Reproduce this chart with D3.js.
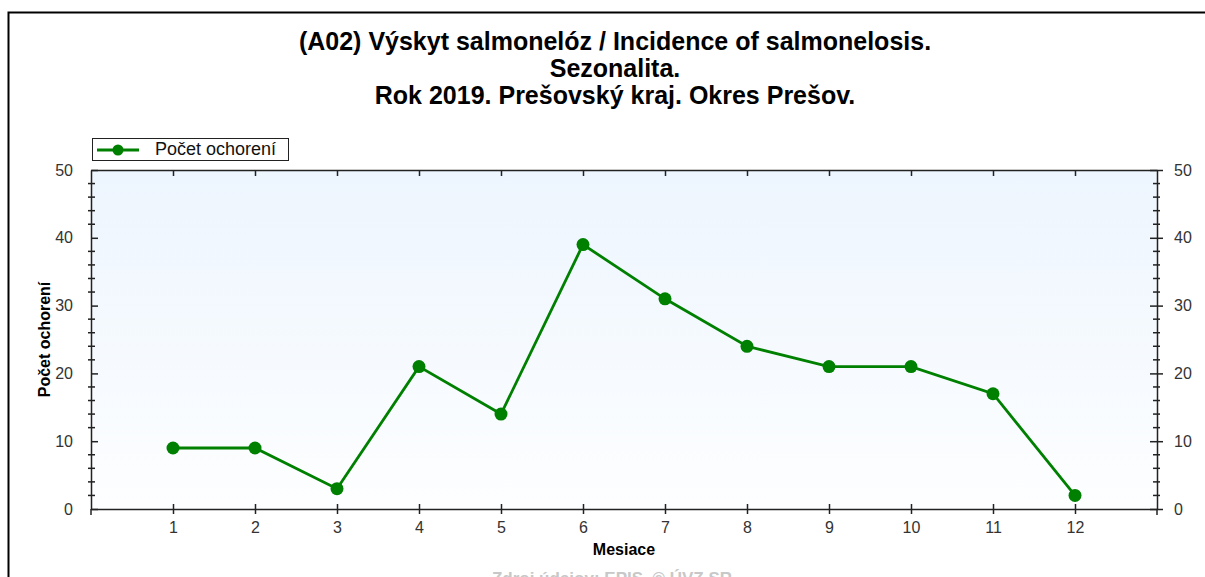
<!DOCTYPE html>
<html lang="sk">
<head>
<meta charset="utf-8">
<script src="https://d3js.org/d3.v7.min.js"></script>
<style>
  body { margin: 0; background: #fff; }
  svg { display: block; font-family: Arial, "Liberation Sans", sans-serif; }
</style>
</head>
<body>
<svg id="chart"></svg>
<script>
// data
var months = [1, 2, 3, 4, 5, 6, 7, 8, 9, 10, 11, 12];
var cases = [9, 9, 3, 21, 14, 39, 31, 24, 21, 21, 17, 2];
var yTicks = [0, 10, 20, 30, 40, 50];
var titleLines = [
  '(A02) Výskyt salmonelóz / Incidence of salmonelosis.',
  'Sezonalita.',
  'Rok 2019. Prešovský kraj. Okres Prešov.'
];
var seriesName = 'Počet ochorení';
var xTitle = 'Mesiace';
var yTitle = 'Počet ochorení';
var sourceText = 'Zdroj údajov: EPIS, © ÚVZ SR';

var width = 1205, height = 577;
var plot = { left: 91, right: 1157, top: 170, bottom: 509 };
var green = '#008000';
var fontFam = 'Arial, "Liberation Sans", sans-serif';

var svg = d3.select('#chart').attr('width', width).attr('height', height);

// outer frame (left + top edges visible)
svg.append('path')
  .attr('d', 'M8.5,' + height + 'V12.5H' + width)
  .attr('fill', 'none').attr('stroke', '#000').attr('stroke-width', 2);

// title
svg.append('g').selectAll('text')
  .data(titleLines)
  .enter().append('text')
  .attr('x', 615)
  .attr('y', function (d, i) { return 50 + i * 27; })
  .attr('text-anchor', 'middle')
  .attr('font-size', 25).attr('font-weight', 'bold').attr('fill', '#000')
  .text(function (d) { return d; });

var x = d3.scaleLinear().domain([0, 13]).range([plot.left, plot.right]);
var y = d3.scaleLinear().domain([0, 50]).range([plot.bottom, plot.top]);

// background gradient
var defs = svg.append('defs');
var grad = defs.append('linearGradient').attr('id', 'bg')
  .attr('x1', 0).attr('y1', 0).attr('x2', 0).attr('y2', 1);
grad.append('stop').attr('offset', '0%').attr('stop-color', '#edf5fe');
grad.append('stop').attr('offset', '100%').attr('stop-color', '#fdfeff');

svg.append('rect')
  .attr('x', plot.left).attr('y', plot.top)
  .attr('width', plot.right - plot.left).attr('height', plot.bottom - plot.top)
  .attr('fill', 'url(#bg)');

// axes
var minorY = d3.range(0, 51, 2).filter(function (v) { return v % 10 !== 0; });

function styleAxis(g) {
  g.selectAll('.domain').attr('stroke', '#222').attr('stroke-width', 1.5);
  g.selectAll('.tick line').attr('stroke', '#222').attr('stroke-width', 1.5);
  g.selectAll('.tick text').attr('fill', '#333').attr('font-size', 16)
    .attr('font-family', fontFam);
}

// left
var gl = svg.append('g').attr('transform', 'translate(' + plot.left + ',0)')
  .call(d3.axisLeft(y).tickValues(yTicks).tickSize(6).tickPadding(12).tickSizeOuter(0));
gl.selectAll('.tick line').attr('x2', 7);
styleAxis(gl);
svg.append('g').selectAll('line').data(minorY).enter().append('line')
  .attr('x1', plot.left - 3).attr('x2', plot.left + 4)
  .attr('y1', function (d) { return y(d); }).attr('y2', function (d) { return y(d); })
  .attr('stroke', '#222').attr('stroke-width', 1.5);

// right
var gr = svg.append('g').attr('transform', 'translate(' + plot.right + ',0)')
  .call(d3.axisRight(y).tickValues(yTicks).tickSize(6).tickPadding(11).tickSizeOuter(0));
gr.selectAll('.tick line').attr('x2', -7).attr('x1', 6);
styleAxis(gr);
svg.append('g').selectAll('line').data(minorY).enter().append('line')
  .attr('x1', plot.right - 4).attr('x2', plot.right + 3)
  .attr('y1', function (d) { return y(d); }).attr('y2', function (d) { return y(d); })
  .attr('stroke', '#222').attr('stroke-width', 1.5);

// bottom
var gb = svg.append('g').attr('transform', 'translate(0,' + plot.bottom + ')')
  .call(d3.axisBottom(x).tickValues(months).tickSize(5).tickPadding(8).tickSizeOuter(0));
gb.selectAll('.tick line').attr('y1', -5);
styleAxis(gb);
svg.append('g').selectAll('line').data([0, 13]).enter().append('line')
  .attr('x1', function (d) { return x(d); }).attr('x2', function (d) { return x(d); })
  .attr('y1', plot.bottom).attr('y2', plot.bottom + 6)
  .attr('stroke', '#222').attr('stroke-width', 1.5);

// top
var gt = svg.append('g').attr('transform', 'translate(0,' + plot.top + ')')
  .call(d3.axisTop(x).tickValues(months).tickSize(0).tickSizeOuter(0).tickFormat(''));
gt.selectAll('.tick line').attr('y2', 6);
styleAxis(gt);

// axis titles
svg.append('text')
  .attr('x', 624).attr('y', 555)
  .attr('text-anchor', 'middle').attr('font-size', 16).attr('font-weight', 'bold')
  .text(xTitle);
svg.append('text')
  .attr('transform', 'translate(50,' + (plot.top + plot.bottom) / 2 + ') rotate(-90)')
  .attr('text-anchor', 'middle').attr('font-size', 16).attr('font-weight', 'bold')
  .text(yTitle);

// source (partly below the visible area, as in the original)
svg.append('text')
  .attr('x', 612).attr('y', 584)
  .attr('text-anchor', 'middle').attr('font-size', 17).attr('font-weight', 'bold')
  .attr('fill', '#c8c8c8')
  .text(sourceText);

// series
var line = d3.line()
  .x(function (d, i) { return x(months[i]); })
  .y(function (d) { return y(d); });

svg.append('path')
  .datum(cases)
  .attr('d', line)
  .attr('fill', 'none').attr('stroke', green).attr('stroke-width', 2.8);

svg.append('g').selectAll('circle')
  .data(cases)
  .enter().append('circle')
  .attr('cx', function (d, i) { return x(months[i]); })
  .attr('cy', function (d) { return y(d); })
  .attr('r', 6.5)
  .attr('fill', green);

// legend
var lg = svg.append('g').attr('transform', 'translate(92,138)');
lg.append('rect').attr('x', 0.5).attr('y', 0.5).attr('width', 196).attr('height', 22)
  .attr('fill', '#fff').attr('stroke', '#222').attr('stroke-width', 1);
lg.append('line').attr('x1', 5).attr('x2', 47).attr('y1', 12).attr('y2', 12)
  .attr('stroke', green).attr('stroke-width', 2.8);
lg.append('circle').attr('cx', 26).attr('cy', 12).attr('r', 5.5).attr('fill', green);
lg.append('text').attr('x', 63).attr('y', 17).attr('font-size', 18).attr('fill', '#111')
  .text(seriesName);
</script>
</body>
</html>
